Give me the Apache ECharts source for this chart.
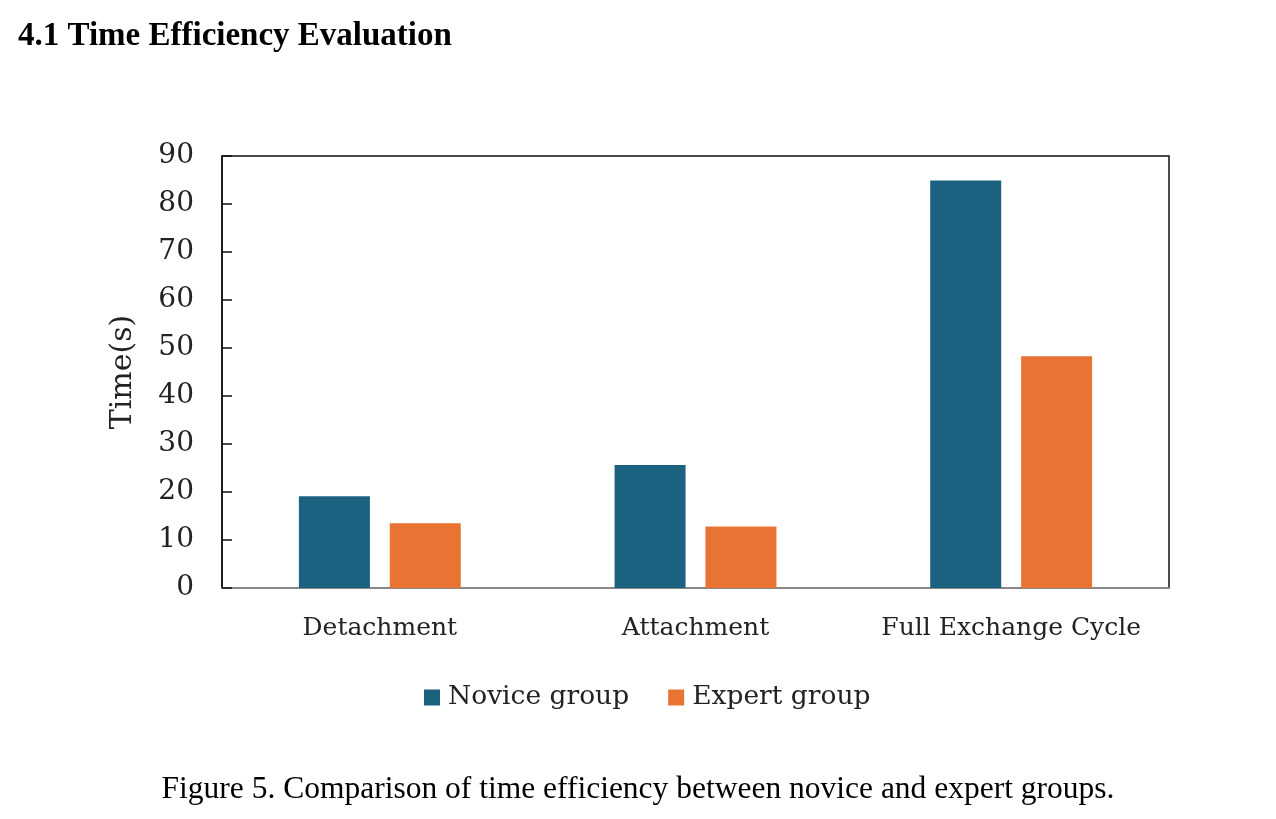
<!DOCTYPE html>
<html>
<head>
<meta charset="utf-8">
<script src="https://cdn.jsdelivr.net/npm/echarts@6/dist/echarts.min.js"></script>
<style>
  html, body { margin: 0; padding: 0; background: #fff; }
  #main { width: 1276px; height: 819px; }
</style>
</head>
<body>
<div id="main"></div>
<script>
var categories = ['Detachment', 'Attachment', 'Full Exchange Cycle'];
var noviceTimes = [19.1, 25.6, 84.9];
var expertTimes = [13.5, 12.8, 48.3];
var yTicks = { min: 0, max: 90, interval: 10 };

var chart = echarts.init(document.getElementById('main'));

var serif = 'DejaVu Serif';

var option = {
    backgroundColor: '#fff',
    animation: false,
    title: [
        {
            text: '4.1 Time Efficiency Evaluation',
            left: 13,
            top: 15,
            textStyle: { fontFamily: 'Liberation Serif', fontWeight: 'bold', fontSize: 33, color: '#000' }
        },
        {
            text: 'Figure 5. Comparison of time efficiency between novice and expert groups.',
            left: 'center',
            top: 769,
            textStyle: { fontFamily: 'Liberation Serif', fontWeight: 'normal', fontSize: 31.5, color: '#000' }
        }
    ],
    legend: {
        data: ['Novice group', 'Expert group'],
        top: 679,
        left: 419,
        itemWidth: 16,
        itemHeight: 16,
        itemGap: 39,
        icon: 'rect',
        textStyle: { fontFamily: serif, fontSize: 26.5, color: '#222', padding: [0, 0, 0, 3] }
    },
    grid: {
        left: 222,
        right: 107,
        top: 156,
        bottom: 231,
        show: true,
        borderColor: '#111',
        borderWidth: 1.5
    },
    xAxis: {
        type: 'category',
        data: categories,
        axisLine: { lineStyle: { color: '#888', width: 2 } },
        axisTick: { show: false },
        axisLabel: { interval: 0, fontFamily: serif, fontSize: 25, color: '#222', margin: 28 }
    },
    yAxis: {
        type: 'value',
        min: yTicks.min,
        max: yTicks.max,
        interval: yTicks.interval,
        name: 'Time(s)',
        nameLocation: 'middle',
        nameGap: 84,
        nameTextStyle: { fontFamily: serif, fontSize: 30, color: '#222' },
        splitLine: { show: false },
        axisLine: { show: true, lineStyle: { color: '#111', width: 1.5 } },
        axisTick: { show: true, inside: true, length: 10, lineStyle: { color: '#111', width: 1.5 } },
        axisLabel: { fontFamily: serif, fontSize: 28, color: '#222', margin: 28 }
    },
    series: [
        {
            name: 'Novice group',
            type: 'bar',
            data: noviceTimes,
            barWidth: 71,
            barGap: '28%',
            itemStyle: { color: '#1a6280' }
        },
        {
            name: 'Expert group',
            type: 'bar',
            data: expertTimes,
            barWidth: 71,
            itemStyle: { color: '#e87332' }
        }
    ]
};

chart.setOption(option);
</script>
</body>
</html>
